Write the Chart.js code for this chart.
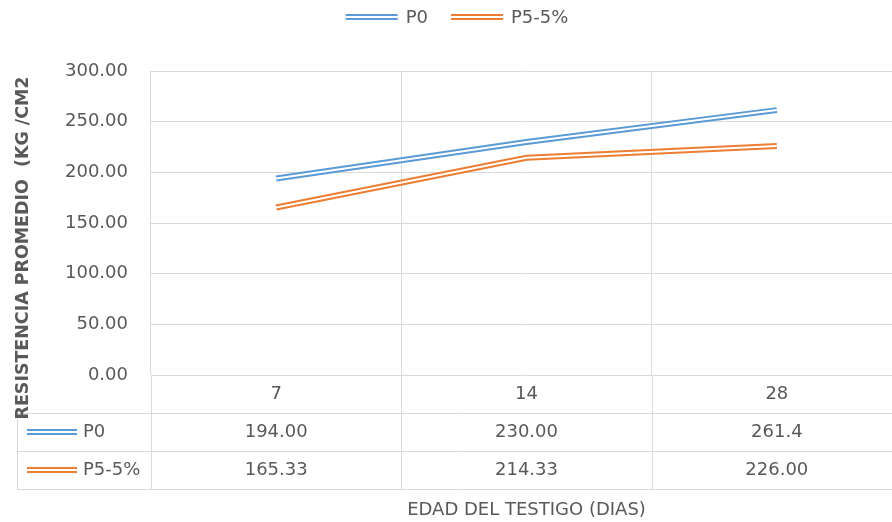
<!DOCTYPE html>
<html>
<head>
<meta charset="utf-8">
<script src="https://cdn.jsdelivr.net/npm/chart.js@4"></script>
<style>
  html, body { margin: 0; padding: 0; background: #fff; overflow: hidden; }
  #wrap { width: 905px; height: 522px; }
</style>
</head>
<body>
<div id="wrap"><canvas id="chart" width="905" height="522"></canvas></div>
<script>
// --- data ---
const categories = ["7", "14", "28"];
const seriesNames = ["P0", "P5-5%"];
const p0Values = [194.00, 230.00, 261.4];
const p5Values = [165.33, 214.33, 226.00];
const p0Labels = ["194.00", "230.00", "261.4"];
const p5Labels = ["165.33", "214.33", "226.00"];
const yTicks = [0, 50, 100, 150, 200, 250, 300];
const yTitle = "RESISTENCIA PROMEDIO  (KG /CM2";
const xTitle = "EDAD DEL TESTIGO (DIAS)";

const colors = ["#5B9BD5", "#ED7D31"];
const textColor = "#595959";
const gridColor = "#D9D9D9";
const font = "DejaVu Sans";

// draws the Excel style "double" line key
function drawKey(ctx, x, y, w, color) {
  ctx.save();
  ctx.strokeStyle = color;
  ctx.lineWidth = 6;
  ctx.beginPath(); ctx.moveTo(x, y); ctx.lineTo(x + w, y); ctx.stroke();
  ctx.strokeStyle = "#fff";
  ctx.lineWidth = 2;
  ctx.beginPath(); ctx.moveTo(x, y); ctx.lineTo(x + w, y); ctx.stroke();
  ctx.restore();
}

// white core line on top of each series -> double line look
const doubleLine = {
  id: "doubleLine",
  afterDatasetsDraw(chart) {
    const ctx = chart.ctx;
    chart.data.datasets.forEach((ds, i) => {
      const pts = chart.getDatasetMeta(i).data;
      ctx.save();
      ctx.strokeStyle = "#fff";
      ctx.lineWidth = 2;
      ctx.lineJoin = "round";
      ctx.beginPath();
      pts.forEach((p, j) => j ? ctx.lineTo(p.x, p.y) : ctx.moveTo(p.x, p.y));
      ctx.stroke();
      ctx.restore();
    });
  }
};

// legend, data table and axis titles
const extras = {
  id: "extras",
  afterDraw(chart) {
    const ctx = chart.ctx;
    const area = chart.chartArea;
    const xs = chart.scales.x;
    const rowTop = [area.bottom, 413, 451, 489];
    const tableLeft = 17;

    ctx.save();
    ctx.font = "18px '" + font + "'";
    ctx.fillStyle = textColor;
    ctx.textBaseline = "middle";

    // top legend
    const keyW = 52, gap = 8, itemGap = 23;
    const widths = seriesNames.map(n => ctx.measureText(n).width);
    const total = widths.reduce((a, w) => a + keyW + gap + w, 0) + itemGap;
    let lx = 457 - total / 2;
    seriesNames.forEach((n, i) => {
      drawKey(ctx, lx, 17, keyW, colors[i]);
      ctx.textAlign = "left";
      ctx.fillText(n, lx + keyW + gap, 18);
      lx += keyW + gap + widths[i] + itemGap;
    });

    // table lines
    ctx.strokeStyle = gridColor;
    ctx.lineWidth = 1;
    ctx.beginPath();
    for (let r = 1; r < rowTop.length; r++) {
      ctx.moveTo(tableLeft, rowTop[r] + 0.5);
      ctx.lineTo(area.right, rowTop[r] + 0.5);
    }
    ctx.moveTo(tableLeft + 0.5, rowTop[1]);
    ctx.lineTo(tableLeft + 0.5, rowTop[3]);
    const bounds = [area.left];
    categories.forEach((c, i) => {
      const half = (xs.getPixelForValue(1) - xs.getPixelForValue(0)) / 2;
      bounds.push(xs.getPixelForValue(i) + half);
    });
    bounds.forEach(b => {
      ctx.moveTo(Math.round(b) + 0.5, area.bottom);
      ctx.lineTo(Math.round(b) + 0.5, rowTop[3]);
    });
    ctx.stroke();

    // table text
    ctx.textAlign = "center";
    const rows = [categories, p0Labels, p5Labels];
    rows.forEach((row, r) => {
      const cy = (rowTop[r] + rowTop[r + 1]) / 2;
      row.forEach((t, i) => ctx.fillText(t, xs.getPixelForValue(i), cy));
    });
    seriesNames.forEach((n, i) => {
      const cy = (rowTop[i + 1] + rowTop[i + 2]) / 2;
      drawKey(ctx, 27, cy, 50, colors[i]);
      ctx.textAlign = "left";
      ctx.fillText(n, 83, cy);
    });

    // x axis title
    ctx.textAlign = "center";
    ctx.fillText(xTitle, (area.left + area.right) / 2, 510);

    // y axis title (bold, rotated, squeezed to the reference length)
    ctx.font = "bold 17px '" + font + "'";
    const tw = ctx.measureText(yTitle).width;
    ctx.translate(24, 248);
    ctx.rotate(-Math.PI / 2);
    ctx.scale(343 / tw, 1);
    ctx.fillText(yTitle, 0, 0);
    ctx.restore();
  }
};

new Chart(document.getElementById("chart"), {
  type: "line",
  data: {
    labels: categories,
    datasets: [
      { label: seriesNames[0], data: p0Values, borderColor: colors[0], borderWidth: 6, pointRadius: 0, tension: 0, fill: false },
      { label: seriesNames[1], data: p5Values, borderColor: colors[1], borderWidth: 6, pointRadius: 0, tension: 0, fill: false }
    ]
  },
  options: {
    responsive: false,
    animation: false,
    layout: { padding: { top: 71, right: 3, left: 0, bottom: 0 } },
    plugins: { legend: { display: false }, tooltip: { enabled: false } },
    scales: {
      x: {
        offset: true,
        grid: { offset: true, color: gridColor, drawTicks: false },
        border: { display: false },
        ticks: { display: false },
        afterFit: s => { s.height = 147; }
      },
      y: {
        min: 0,
        max: 300,
        afterBuildTicks: s => { s.ticks = yTicks.map(v => ({ value: v })); },
        grid: { color: gridColor, drawTicks: false },
        border: { display: false },
        ticks: {
          color: textColor,
          font: { family: font, size: 18 },
          padding: 23,
          callback: v => v.toFixed(2)
        },
        afterFit: s => { s.width = 151; }
      }
    }
  },
  plugins: [doubleLine, extras]
});
</script>
</body>
</html>
